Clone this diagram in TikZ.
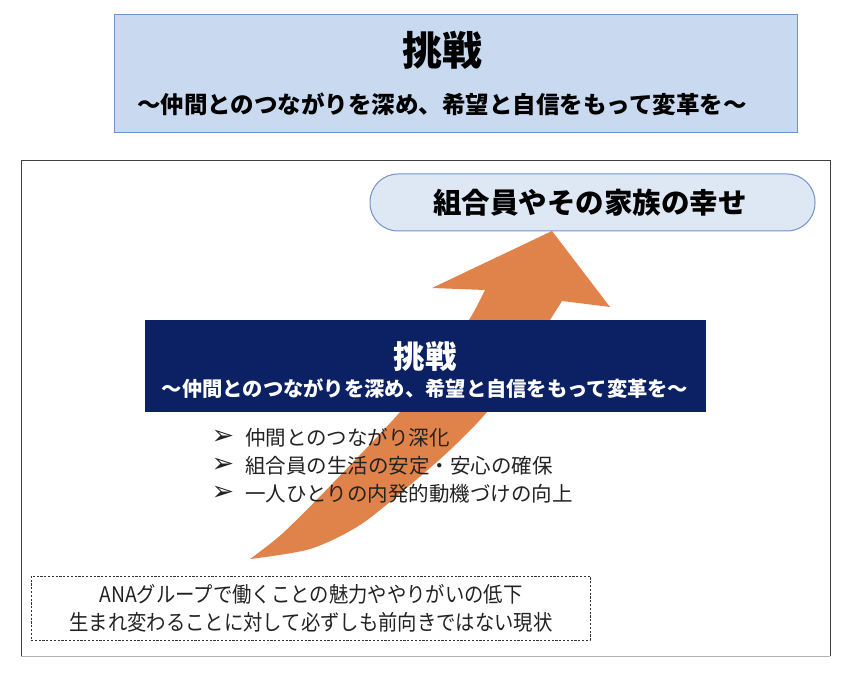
\documentclass[tikz,border=0pt]{standalone}
\usepackage{fontspec}
\setmainfont{Noto Sans CJK JP}
\newfontfamily\jp{Noto Sans CJK JP}
\newfontfamily\jpc[FakeStretch=0.9]{Noto Sans CJK JP}
\newfontfamily\dv{DejaVu Sans}
\definecolor{topfill}{HTML}{C9D9EF}
\definecolor{topline}{HTML}{7094C8}
\definecolor{pillfill}{HTML}{DEE8F5}
\definecolor{navy}{HTML}{0B2163}
\definecolor{arroworange}{HTML}{E0834A}
\definecolor{txt}{HTML}{222222}
\tikzset{
  topbox/.style={draw=topline, fill=topfill, line width=0.8pt, minimum width=683pt, minimum height=118pt, inner sep=0pt},
  pillbox/.style={draw=topline, fill=pillfill, line width=1pt, rounded corners=28pt, minimum width=445pt, minimum height=57pt, inner sep=0pt},
  navybox/.style={fill=navy, minimum width=561pt, minimum height=92pt, inner sep=0pt},
  dashbox/.style={draw=black!80, dash pattern=on 2.2pt off 1.6pt, line width=0.9pt, minimum width=559pt, minimum height=64pt, inner sep=0pt},
  bigtitle/.style={font=\jp\bfseries\fontsize{40}{42}\selectfont, inner sep=0pt},
  subtitle/.style={font=\jp\bfseries\fontsize{23.5}{26}\selectfont, inner sep=0pt},
  pilltext/.style={font=\jp\bfseries\fontsize{28.5}{30}\selectfont, inner sep=0pt},
  navytitle/.style={font=\jp\bfseries\fontsize{31.5}{33}\selectfont, text=white, inner sep=0pt},
  navysub/.style={font=\jp\bfseries\fontsize{20.3}{22}\selectfont, text=white, inner sep=0pt},
  bullettext/.style={font=\jp\fontsize{20.5}{22}\selectfont, text=txt, anchor=west, inner sep=0pt},
  bulletmark/.style={font=\dv\bfseries\fontsize{27}{28}\selectfont, text=txt, inner sep=0pt},
  bottomtext/.style={font=\jpc\fontsize{21.5}{23}\selectfont, text=txt, inner sep=0pt},
}
\begin{document}
\begin{tikzpicture}[x=1pt,y=-1pt]
\useasboundingbox (0,0) rectangle (854,676);
% top banner
\node[topbox] (top) at (455.5,73) {};
\node[bigtitle] (toptitle) at (442,50) {挑戦};
\node[subtitle] (topsub) at (442,104) {～仲間とのつながりを深め、希望と自信をもって変革を～};
% frame
\coordinate (fbl) at (21,656);
\coordinate (ftl) at (21,161);
\coordinate (ftr) at (830,161);
\coordinate (fbr) at (830,656);
\draw[black!75, line width=1pt] (fbl) -- (ftl) -- (ftr) -- (fbr);
\draw[black!30, line width=1pt] (fbl) -- (fbr);
% arrow
\fill[arroworange] (552,231) -- (610,307) --
  plot[smooth, tension=0.5] coordinates {(562,301) (521,365) (487,412) (450,450) (410,485) (360,525) (310,549) (250,559)} --
  plot[smooth, tension=0.5] coordinates {(250,559) (283,533) (333,483) (400,412) (440,360) (469,320) (485,290)} --
  (432,288) -- cycle;
% goal pill
\node[pillbox] (goal) at (592.5,202.5) {};
\node[pilltext] (goaltext) at (590,203) {組合員やその家族の幸せ};
% navy box
\node[navybox] (chal) at (425.5,366) {};
\node[navytitle] (chaltitle) at (425,357) {挑戦};
\node[navysub] (chalsub) at (425,389) {～仲間とのつながりを深め、希望と自信をもって変革を～};
% bullets
\node[bulletmark] (b1m) at (223,437) {➢};
\node[bullettext] (b1) at (245,438) {仲間とのつながり深化};
\node[bulletmark] (b2m) at (223,465) {➢};
\node[bullettext] (b2) at (245,466) {組合員の生活の安定・安心の確保};
\node[bulletmark] (b3m) at (223,493) {➢};
\node[bullettext] (b3) at (245,494) {一人ひとりの内発的動機づけの向上};
% current state
\node[dashbox] (now) at (310.5,608) {};
\node[bottomtext] (now1) at (311,594) {ANAグループで働くことの魅力ややりがいの低下};
\node[bottomtext] (now2) at (311,622) {生まれ変わることに対して必ずしも前向きではない現状};
\end{tikzpicture}
\end{document}
